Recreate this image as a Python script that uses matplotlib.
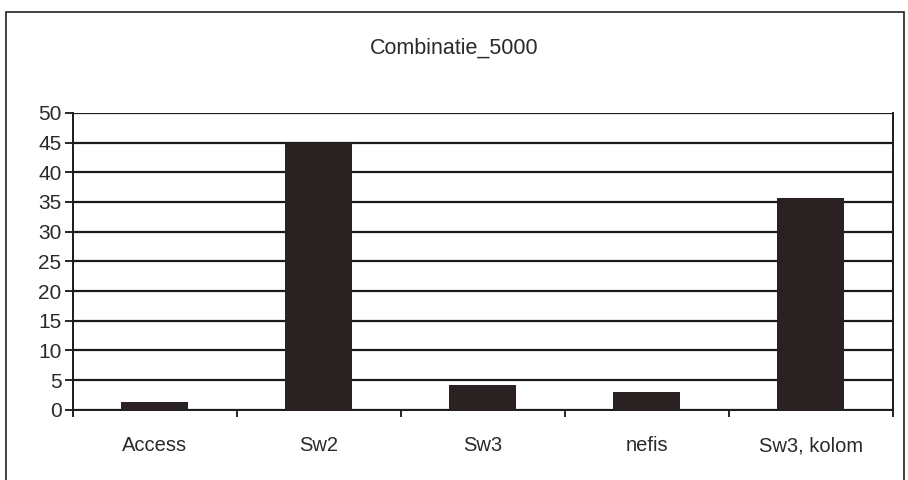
import numpy as np
import matplotlib.pyplot as plt
import matplotlib as mpl
from matplotlib.patches import Rectangle

mpl.rcParams["font.family"] = ["Liberation Sans", "DejaVu Sans"]

# data
categories = ["Access", "Sw2", "Sw3", "nefis", "Sw3, kolom"]
values = [1.3, 45.0, 4.2, 3.0, 35.7]
yticks = [0, 5, 10, 15, 20, 25, 30, 35, 40, 45, 50]
title = "Combinatie_5000"

fig = plt.figure(figsize=(9.08, 4.8), dpi=100)
ax = fig.add_axes([0.080, 0.146, 0.903, 0.619])

x = np.arange(len(categories))
ax.bar(x, values, width=0.41, color="#2a2222", zorder=3)

ax.set_xlim(-0.5, len(categories) - 0.5)
ax.set_ylim(0, 50)
ax.set_yticks(yticks)
ax.set_yticklabels([str(v) for v in yticks], fontsize=15, color="#2a2a2a")
ax.yaxis.grid(True, color="#1a1a1a", linewidth=1.6, zorder=1)
ax.set_axisbelow(True)

# category labels between the boundary ticks
ax.set_xticks(np.arange(-0.5, len(categories)), minor=False)
ax.set_xticklabels([])
ax.set_xticks(x, minor=True)
ax.set_xticklabels(categories, minor=True, fontsize=14.5, color="#2a2a2a")
ax.tick_params(axis="x", which="minor", length=0, pad=19)
ax.tick_params(axis="x", which="major", length=5, width=1.2, direction="out")
ax.tick_params(axis="y", length=6, width=1.2, direction="out", pad=2)

ax.spines["top"].set_visible(False)
for s in ["left", "right", "bottom"]:
    ax.spines[s].set_linewidth(1.4)
    ax.spines[s].set_color("#1a1a1a")

fig.text(0.5, 0.9, title, ha="center", va="center", fontsize=15.5, color="#2a2a2a")

# outer chart frame
fig.patches.append(Rectangle((0.007, -0.05), 0.989, 1.025, transform=fig.transFigure,
                             fill=False, edgecolor="#333333", linewidth=1.3))

fig.savefig("out.png", dpi=100)
